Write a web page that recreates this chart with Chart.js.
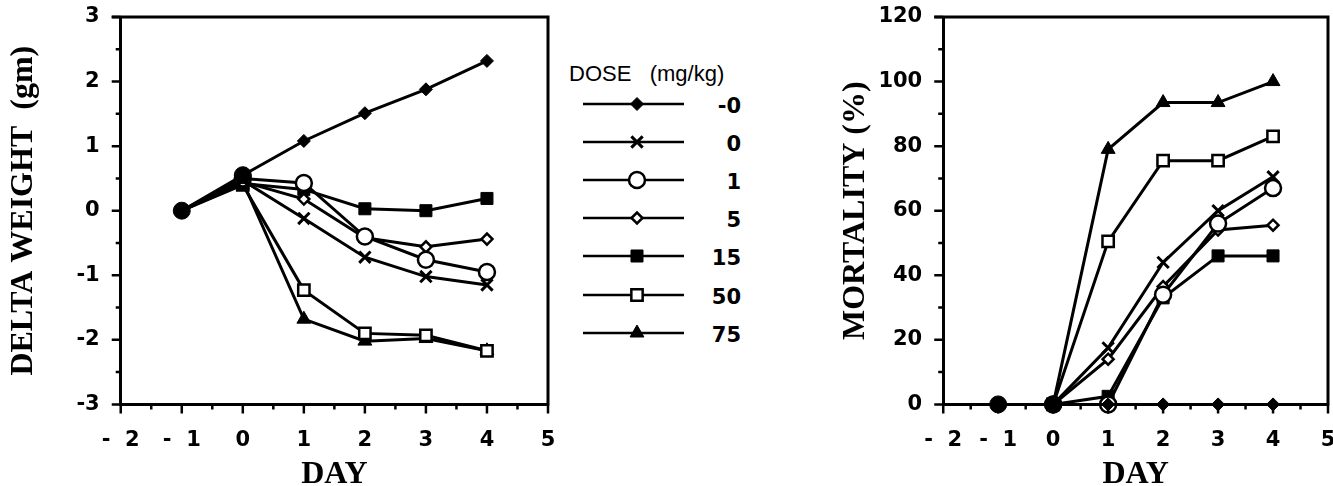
<!DOCTYPE html>
<html>
<head>
<meta charset="utf-8">
<script src="https://cdn.jsdelivr.net/npm/chart.js"></script>
<style>
  html, body { margin: 0; padding: 0; background: #fff; overflow: hidden; }
  body { position: relative; width: 1333px; height: 486px; }
  .box { position: absolute; top: 0; height: 494px; }
  #weightBox { left: 0; width: 560px; }
  #mortBox { left: 833px; width: 507px; }
  #legendHead { position: absolute; left: 569px; top: 63px; font: 22px/22px "Liberation Sans", Arial, sans-serif; white-space: pre; color: #000; }
  .legSym { position: absolute; left: 580px; }
  .legLabel { position: absolute; left: 690px; width: 51px; text-align: right; font: bold 21px/21px "DejaVu Sans", sans-serif; color: #000; }
</style>
</head>
<body>
<div class="box" id="weightBox"><canvas id="weightChart"></canvas></div>
<div id="legendHead">DOSE   (mg/kg)</div>
<div id="legend"></div>
<div class="box" id="mortBox"><canvas id="mortChart"></canvas></div>
<script>
// dose groups (mg/kg) and sampling days
const doses = ['-0', '0', '1', '5', '15', '50', '75'];
const days = [-1, 0, 1, 2, 3, 4];

// delta weight (gm), one array per dose
const weightNeg0 = [0, 0.55, 1.08, 1.51, 1.88, 2.32];
const weight0 = [0, 0.47, -0.12, -0.72, -1.02, -1.15];
const weight1 = [0, 0.50, 0.43, -0.40, -0.76, -0.95];
const weight5 = [0, 0.45, 0.18, -0.42, -0.56, -0.44];
const weight15 = [0, 0.42, 0.33, 0.03, 0.00, 0.19];
const weight50 = [0, 0.40, -1.23, -1.90, -1.93, -2.17];
const weight75 = [0, 0.45, -1.68, -2.02, -1.98, -2.17];

// mortality (%), one array per dose
const mortNeg0 = [0, 0, 0, 0, 0, 0];
const mort0 = [0, 0, 17.5, 44, 60, 70.5];
const mort1 = [0, 0, 0, 34, 56, 67];
const mort5 = [0, 0, 14, 36.5, 54, 55.5];
const mort15 = [0, 0, 2.5, 33, 46, 46];
const mort50 = [0, 0, 50.5, 75.5, 75.5, 83];
const mort75 = [0, 0, 79, 93.5, 93.5, 100];

const weightSeries = [weightNeg0, weight0, weight1, weight5, weight15, weight50, weight75];
const mortSeries = [mortNeg0, mort0, mort1, mort5, mort15, mort50, mort75];

// marker look for each dose
const markers = [
    { style: 'rectRot', radius: 6.5, fill: '#000', width: 1 },
    { style: 'crossRot', radius: 8, fill: '#000', width: 3 },
    { style: 'circle', radius: 8, fill: '#fff', width: 2.5 },
    { style: 'rectRot', radius: 5.5, fill: '#fff', width: 2.5 },
    { style: 'rect', radius: 8.5, fill: '#000', width: 1 },
    { style: 'rect', radius: 8, fill: '#fff', width: 2.5 },
    { style: 'triangle', radius: 8, fill: '#000', width: 1 }
];

const TICK_FONT = { family: 'DejaVu Sans', weight: 'bold', size: 21 };
const TITLE_FONT = { family: 'Liberation Serif', weight: 'bold', size: 32 };

// draws the short tick marks and the top/right frame lines
const frameAndTicks = {
    id: 'frameAndTicks',
    afterDraw(chart, args, opts) {
        const { ctx, chartArea: a, scales } = chart;
        const x = scales.x, y = scales.y;
        ctx.save();
        ctx.strokeStyle = '#000';
        ctx.lineWidth = 2.5;
        ctx.beginPath();
        x.ticks.forEach(t => {
            const px = x.getPixelForValue(t.value);
            const len = Number.isInteger(t.value) ? 9 : 5;
            ctx.moveTo(px, a.bottom);
            ctx.lineTo(px, a.bottom + len);
        });
        y.ticks.forEach(t => {
            const py = y.getPixelForValue(t.value);
            const len = Math.abs(t.value % opts.majorY) < 1e-9 ? 9 : 5;
            ctx.moveTo(a.left, py);
            ctx.lineTo(a.left - len, py);
        });
        ctx.stroke();
        ctx.lineWidth = 3;
        ctx.beginPath();
        ctx.moveTo(a.left - 9, a.top);
        ctx.lineTo(a.right, a.top);
        ctx.lineTo(a.right, a.bottom + 1);
        ctx.stroke();
        ctx.restore();
    }
};

function buildDatasets(series) {
    return series.map((values, i) => {
        const m = markers[i];
        return {
            label: doses[i],
            data: values.map((v, k) => ({ x: days[k], y: v })),
            borderColor: '#000',
            borderWidth: 3,
            clip: false,
            pointStyle: ctx => (i === 0 && ctx.dataIndex < 2) ? 'circle' : m.style,
            pointRadius: ctx => {
                if (i === 0 && ctx.dataIndex < 2) return 8.5;
                if (ctx.dataIndex === 0) return 0;
                return m.radius;
            },
            pointBackgroundColor: ctx => (i === 0 && ctx.dataIndex < 2) ? '#000' : m.fill,
            pointBorderColor: '#000',
            pointBorderWidth: m.width
        };
    });
}

function xLabel(v) {
    if (!Number.isInteger(v)) return '';
    return v < 0 ? '-  ' + (-v) : String(v);
}

function makeChart(canvasId, series, yMin, yMax, yStep, majorY, yTitle, yTitlePad) {
    return new Chart(document.getElementById(canvasId), {
        type: 'line',
        data: { datasets: buildDatasets(series) },
        plugins: [frameAndTicks],
        options: {
            responsive: true,
            maintainAspectRatio: false,
            animation: false,
            layout: { padding: { top: 17, right: 12, left: 0, bottom: 0 } },
            plugins: {
                legend: { display: false },
                tooltip: { enabled: false },
                frameAndTicks: { majorY: majorY }
            },
            scales: {
                x: {
                    type: 'linear',
                    min: -2,
                    max: 5,
                    border: { color: '#000', width: 3 },
                    grid: { drawOnChartArea: false, drawTicks: true, tickLength: 22, tickColor: 'rgba(0,0,0,0)' },
                    ticks: {
                        stepSize: 0.5,
                        autoSkip: false,
                        maxRotation: 0,
                        padding: 2,
                        color: '#000',
                        font: TICK_FONT,
                        callback: xLabel
                    },
                    title: { display: true, text: 'DAY', color: '#000', font: TITLE_FONT, padding: 0 }
                },
                y: {
                    type: 'linear',
                    min: yMin,
                    max: yMax,
                    border: { color: '#000', width: 3 },
                    grid: { drawOnChartArea: false, drawTicks: true, tickLength: 20, tickColor: 'rgba(0,0,0,0)' },
                    ticks: {
                        stepSize: yStep,
                        autoSkip: false,
                        padding: 1,
                        color: '#000',
                        font: TICK_FONT,
                        callback: v => Math.abs(v % majorY) < 1e-9 ? String(v) : ''
                    },
                    title: { display: true, text: yTitle, color: '#000', font: TITLE_FONT, padding: yTitlePad }
                }
            }
        }
    });
}

makeChart('weightChart', weightSeries, -3, 3, 0.5, 1, 'DELTA WEIGHT  (gm)', { top: 5, bottom: 32 });
makeChart('mortChart', mortSeries, 0, 120, 10, 20, 'MORTALITY (%)', { top: 4, bottom: 2 });

// legend rows: line with marker, then the dose label
const legend = document.getElementById('legend');
doses.forEach((dose, i) => {
    const cy = 104 + i * 38.1;
    const cv = document.createElement('canvas');
    cv.className = 'legSym';
    cv.width = 110;
    cv.height = 26;
    cv.style.top = (cy - 13) + 'px';
    legend.appendChild(cv);
    const ctx = cv.getContext('2d');
    ctx.strokeStyle = '#000';
    ctx.lineWidth = 2.5;
    ctx.beginPath();
    ctx.moveTo(3, 13);
    ctx.lineTo(104, 13);
    ctx.stroke();
    const m = markers[i];
    ctx.fillStyle = m.fill;
    ctx.lineWidth = m.width;
    Chart.helpers.drawPoint(ctx, { pointStyle: m.style, radius: m.radius, rotation: 0, borderWidth: m.width }, 57, 13);

    const lab = document.createElement('div');
    lab.className = 'legLabel';
    lab.style.top = (cy - 8) + 'px';
    lab.textContent = dose;
    legend.appendChild(lab);
});
</script>
</body>
</html>
